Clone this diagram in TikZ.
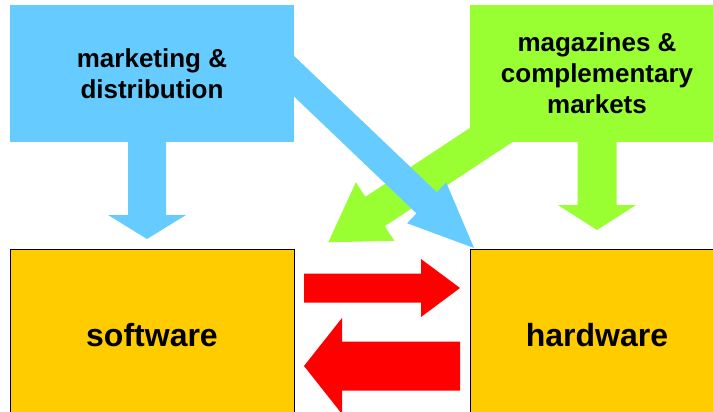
\documentclass[tikz,border=0pt]{standalone}
\usepackage{fontspec}
\setmainfont{Liberation Sans}
\usetikzlibrary{calc}

\definecolor{skyblue}{HTML}{66CCFF}
\definecolor{limegreen}{HTML}{99FF33}
\definecolor{gold}{HTML}{FFCC00}
\definecolor{arrowred}{HTML}{FF0000}

% Fat block arrow: #1 colour, #2 start, #3 tip,
% #4 half shaft width, #5 half head width, #6 head length
\newcommand\fatarrow[6]{%
  \coordinate (fa-base) at ($(#3)!#6!(#2)$);
  \fill[#1] ($(#2)!#4!90:(#3)$)
    -- ($(fa-base)!#4!90:(#3)$)
    -- ($(fa-base)!#5!90:(#3)$)
    -- (#3)
    -- ($(fa-base)!#5!-90:(#3)$)
    -- ($(fa-base)!#4!-90:(#3)$)
    -- ($(#2)!#4!-90:(#3)$)
    -- cycle;
}

\tikzset{
  topbox/.style={inner sep=0pt, align=center,
    font=\bfseries\fontsize{26}{31}\selectfont},
  mainbox/.style={fill=gold, draw=black, line width=1pt, inner sep=0pt,
    font=\bfseries\fontsize{32}{38}\selectfont},
}

\begin{document}
\begin{tikzpicture}[x=1pt, y=-1pt]
  \clip (0,0) rectangle (713,412);

  % source boxes
  \node[topbox, fill=skyblue, minimum width=284pt, minimum height=136.5pt]
    (mkt) at (152,73.25) {marketing \&\\distribution};
  \node[topbox, fill=limegreen, minimum width=254pt, minimum height=136.5pt]
    (mag) at (597,73.25) {magazines \&\\complementary\\markets};

  % lower boxes
  \node[mainbox, minimum width=284pt, minimum height=172pt]
    (soft) at (152,335) {software};
  \node[mainbox, minimum width=254pt, minimum height=172pt]
    (hard) at (597,335) {hardware};

  % arrow end points
  \coordinate (mkt-down) at (147,130);
  \coordinate (soft-in)  at (147,239);
  \coordinate (mag-down) at (597,130);
  \coordinate (hard-in)  at (597,230);
  \coordinate (mkt-diag) at (265.1,48.6);
  \coordinate (hard-corner) at (474,248);
  \coordinate (mag-diag) at (525.4,112.5);
  \coordinate (soft-corner) at (328.3,242.3);
  \coordinate (soft-r) at (304,288);
  \coordinate (hard-l) at (460,288);
  \coordinate (hard-r) at (460,366);
  \coordinate (soft-l) at (304,366);

  % influence arrows
  \fatarrow{limegreen}{mag-diag}{soft-corner}{17.6pt}{35pt}{56pt}
  \fatarrow{skyblue}{mkt-diag}{hard-corner}{14.7pt}{28.3pt}{65.5pt}
  \fatarrow{skyblue}{mkt-down}{soft-in}{19pt}{39pt}{24pt}
  \fatarrow{limegreen}{mag-down}{hard-in}{19.5pt}{39pt}{25pt}

  % exchange between software and hardware
  \fatarrow{arrowred}{soft-r}{hard-l}{14.5pt}{29pt}{39pt}
  \fatarrow{arrowred}{hard-r}{soft-l}{24.5pt}{48pt}{38pt}
\end{tikzpicture}
\end{document}
